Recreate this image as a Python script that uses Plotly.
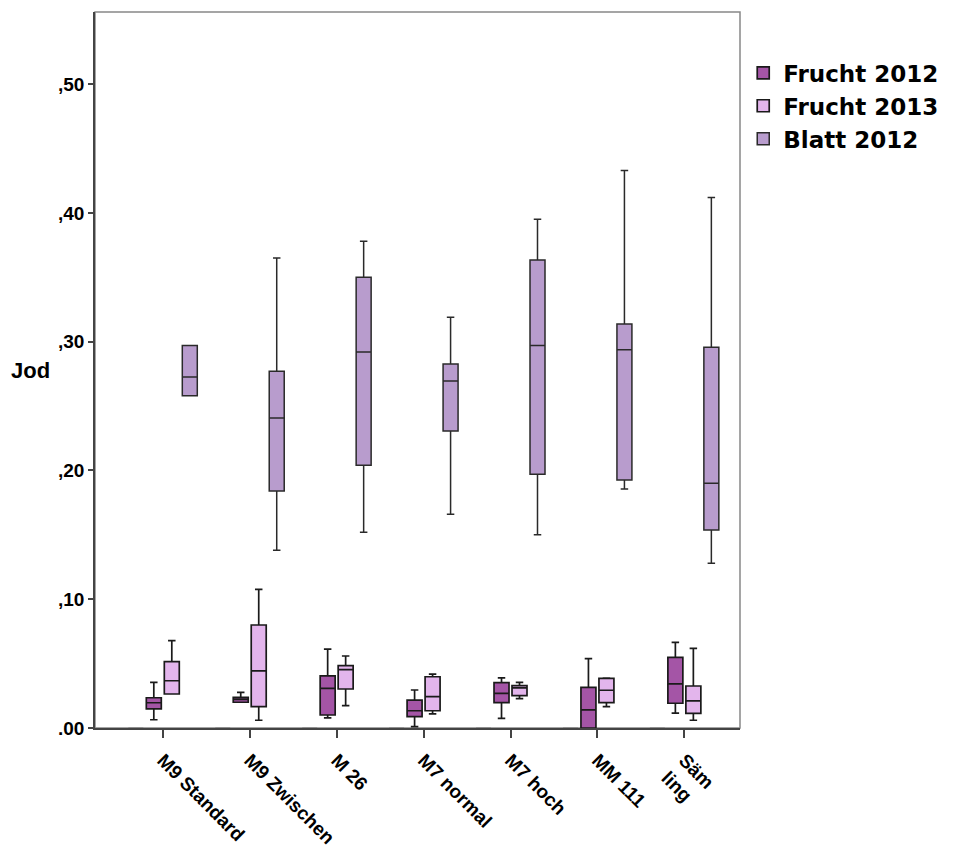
import plotly.graph_objects as go

categories = ["M9 Standard", "M9 Zwischen", "M 26", "M7 normal", "M7 hoch", "MM 111", "Säm<br>ling"]

# Leere Gruppe (nur Nulllinie sichtbar)
leer_vals = [0.0, 0.0, 0.0, 0.0, 0.0, 0.0, 0.0]

f12_lo = [0.0064, 0.0200, 0.0078, 0.0010, 0.0075, 0.0000, 0.0116]
f12_q1 = [0.0148, 0.0200, 0.0101, 0.0088, 0.0197, 0.0000, 0.0192]
f12_med = [0.0196, 0.0223, 0.0308, 0.0134, 0.0269, 0.0140, 0.0342]
f12_q3 = [0.0235, 0.0238, 0.0404, 0.0217, 0.0352, 0.0316, 0.0549]
f12_hi = [0.0355, 0.0277, 0.0613, 0.0295, 0.0390, 0.0538, 0.0665]

f13_lo = [0.0264, 0.0060, 0.0173, 0.0109, 0.0228, 0.0166, 0.0060]
f13_q1 = [0.0264, 0.0166, 0.0303, 0.0134, 0.0251, 0.0197, 0.0114]
f13_med = [0.0367, 0.0443, 0.0453, 0.0243, 0.0311, 0.0293, 0.0210]
f13_q3 = [0.0515, 0.0800, 0.0484, 0.0398, 0.0329, 0.0386, 0.0326]
f13_hi = [0.0678, 0.1077, 0.0559, 0.0419, 0.0355, 0.0388, 0.0619]

bl_lo = [0.258, 0.138, 0.152, 0.166, 0.150, 0.1856, 0.128]
bl_q1 = [0.258, 0.184, 0.204, 0.2306, 0.197, 0.1925, 0.1537]
bl_med = [0.2725, 0.2407, 0.292, 0.2694, 0.297, 0.2937, 0.190]
bl_q3 = [0.297, 0.277, 0.350, 0.2826, 0.3634, 0.3137, 0.2956]
bl_hi = [0.297, 0.365, 0.378, 0.319, 0.395, 0.433, 0.412]

y_tickvals = [0.0, 0.1, 0.2, 0.3, 0.4, 0.5]
y_ticktext = [".00", ",10", ",20", ",30", ",40", ",50"]

fig = go.Figure()

fig.add_trace(go.Box(
    name="leer", x=categories, q1=leer_vals, median=leer_vals, q3=leer_vals,
    lowerfence=leer_vals, upperfence=leer_vals, showlegend=False,
    line=dict(color="#888888", width=1.5), fillcolor="#888888", whiskerwidth=0.6,
))
fig.add_trace(go.Box(
    name="<b>Frucht 2012</b>", x=categories, q1=f12_q1, median=f12_med, q3=f12_q3,
    lowerfence=f12_lo, upperfence=f12_hi,
    line=dict(color="#1a1a1a", width=1.7), fillcolor="#a455a6", whiskerwidth=0.5,
))
fig.add_trace(go.Box(
    name="<b>Frucht 2013</b>", x=categories, q1=f13_q1, median=f13_med, q3=f13_q3,
    lowerfence=f13_lo, upperfence=f13_hi,
    line=dict(color="#1a1a1a", width=1.7), fillcolor="#e3b5ec", whiskerwidth=0.5,
))
fig.add_trace(go.Box(
    name="<b>Blatt 2012</b>", x=categories, q1=bl_q1, median=bl_med, q3=bl_q3,
    lowerfence=bl_lo, upperfence=bl_hi,
    line=dict(color="#2a2a2a", width=1.5), fillcolor="#b89ccd", whiskerwidth=0.5,
))

fig.update_layout(
    width=955, height=850,
    margin=dict(l=95, r=212, t=12, b=122),
    paper_bgcolor="white", plot_bgcolor="white",
    boxmode="group", boxgap=0.172, boxgroupgap=0.167,
    showlegend=True,
    legend=dict(
        x=1.005, y=0.945, xanchor="left", yanchor="top",
        font=dict(family="DejaVu Sans", size=23, color="black"),
        bgcolor="rgba(0,0,0,0)", tracegroupgap=0, itemwidth=30,
    ),
    xaxis=dict(
        type="category", range=[-0.78, 6.64], automargin=False,
        tickvals=categories, ticktext=["<b>" + c + "</b>" for c in categories],
        showline=True, linecolor="#444444", linewidth=1.5,
        ticks="outside", ticklen=8, tickcolor="#444444", tickwidth=1.5,
        tickangle=45, showgrid=False, zeroline=False,
        tickfont=dict(family="Liberation Sans", size=19, color="black"),
        ticklabelstandoff=4,
    ),
    yaxis=dict(
        range=[0, 0.556], automargin=False,
        tickvals=y_tickvals, ticktext=["<b>" + t + "</b>" for t in y_ticktext],
        showline=True, linecolor="#444444", linewidth=1.5,
        ticks="outside", ticklen=5, tickcolor="#444444", tickwidth=1.5,
        showgrid=False, zeroline=False,
        tickfont=dict(family="Liberation Sans", size=19, color="black"),
    ),
    shapes=[dict(type="rect", xref="paper", yref="paper", x0=0, x1=1, y0=0, y1=1,
                 line=dict(color="#888888", width=1.5), fillcolor="rgba(0,0,0,0)", layer="below")],
    annotations=[
        dict(text="<b>Jod</b>", xref="paper", yref="paper", x=-0.1, y=(728 - 370) / 716,
             xanchor="center", yanchor="middle", showarrow=False,
             font=dict(family="Liberation Sans", size=22, color="black")),
        dict(text="Jod im Apfel (mg/g)", xref="paper", yref="paper", x=(582 - 95) / 648, y=1,
             xanchor="right", yanchor="bottom", yshift=10, showarrow=False,
             font=dict(family="Liberation Serif", size=40, color="black")),
    ],
)

fig.write_html("out.html")
